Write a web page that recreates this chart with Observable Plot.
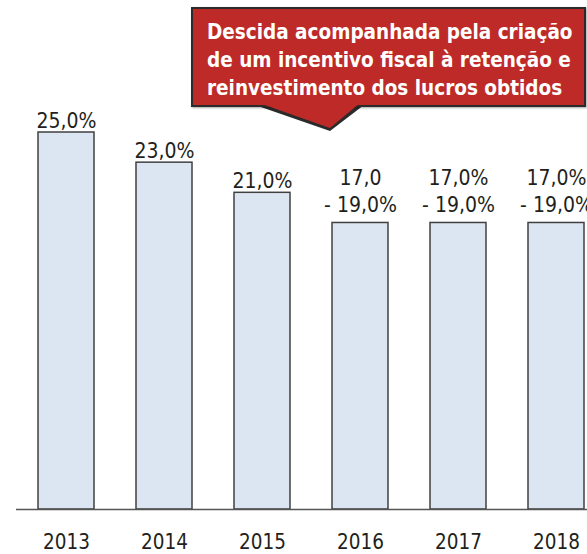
<!DOCTYPE html>
<html>
<head>
<meta charset="utf-8">
<script src="https://cdn.jsdelivr.net/npm/d3@7"></script>
<script src="https://cdn.jsdelivr.net/npm/@observablehq/plot@0.6"></script>
<style>
  html, body { margin: 0; padding: 0; background: white; }
  #wrap { position: relative; width: 587px; height: 554px; overflow: hidden; }
  .callout-box {
    position: absolute; left: 191px; top: 7px;
    background: #be2a27; border: 2px solid #2b2b2b;
    box-shadow: 1px 1px 2px rgba(0,0,0,0.35);
    color: white; font-family: "DejaVu Sans Condensed", "DejaVu Sans", sans-serif;
    font-stretch: condensed; font-weight: bold; font-size: 20.5px; line-height: 28px;
    padding: 9px 0 0 14px; box-sizing: content-box; width: 377px; height: 87px;
    white-space: nowrap;
  }
  .ptr { position: absolute; left: 0; top: 0; width: 587px; height: 140px; }
  .ptr.dark { background: #2b2b2b; clip-path: polygon(255px 105px, 330px 131px, 364px 105px); }
  .ptr.red { background: #be2a27; clip-path: polygon(259px 103px, 330px 128px, 360px 103px); }
</style>
</head>
<body>
<div id="wrap"></div>
<script>
const years = ["2013", "2014", "2015", "2016", "2017", "2018"];
const rates = [25, 23, 21, 19, 19, 19];
const labels = ["25,0%", "23,0%", "21,0%", "17,0\n- 19,0%", "17,0%\n- 19,0%", "17,0%\n- 19,0%"];
const calloutLines = [
  "Descida acompanhada pela criação",
  "de um incentivo fiscal à retenção e",
  "reinvestimento dos lucros obtidos"
];

const data = years.map((y, i) => ({year: y, rate: rates[i], label: labels[i], multi: labels[i].includes("\n")}));

const font = "'DejaVu Sans Condensed', 'DejaVu Sans', sans-serif";

const chart = Plot.plot({
  width: 587,
  height: 554,
  marginTop: 132,
  marginBottom: 45,
  marginLeft: 16,
  marginRight: 0,
  style: {fontFamily: font, fontSize: "20px", color: "#231f20", background: "white", overflow: "visible", fontStretch: "condensed"},
  x: {type: "band", domain: years, range: [17, 605], paddingInner: 0.43, paddingOuter: 0.215, label: null},
  y: {domain: [0, 25], axis: null},
  marks: [
    Plot.barY(data, {x: "year", y: "rate", fill: "#dce6f2", stroke: "#404040", strokeWidth: 1.5}),
    Plot.ruleY([0], {stroke: "#555555", strokeWidth: 1.5}),
    Plot.text(data.filter(d => !d.multi), {x: "year", y: "rate", text: "label", lineAnchor: "bottom", dy: -5, fill: "#231f20", fontSize: 21}),
    Plot.text(data.filter(d => d.multi), {x: "year", y: "rate", text: "label", lineAnchor: "bottom", lineHeight: 1.29, dy: -11, fill: "#231f20", fontSize: 21}),
    Plot.axisX({tickSize: 0, tickPadding: 25, fontSize: 20.5, fill: "#231f20", label: null})
  ]
});

const wrap = document.getElementById("wrap");
wrap.appendChild(chart);

const dark = document.createElement("div"); dark.className = "ptr dark"; wrap.appendChild(dark);
const box = document.createElement("div"); box.className = "callout-box";
box.innerHTML = calloutLines.join("<br>");
wrap.appendChild(box);
const red = document.createElement("div"); red.className = "ptr red"; wrap.appendChild(red);
</script>
</body>
</html>
